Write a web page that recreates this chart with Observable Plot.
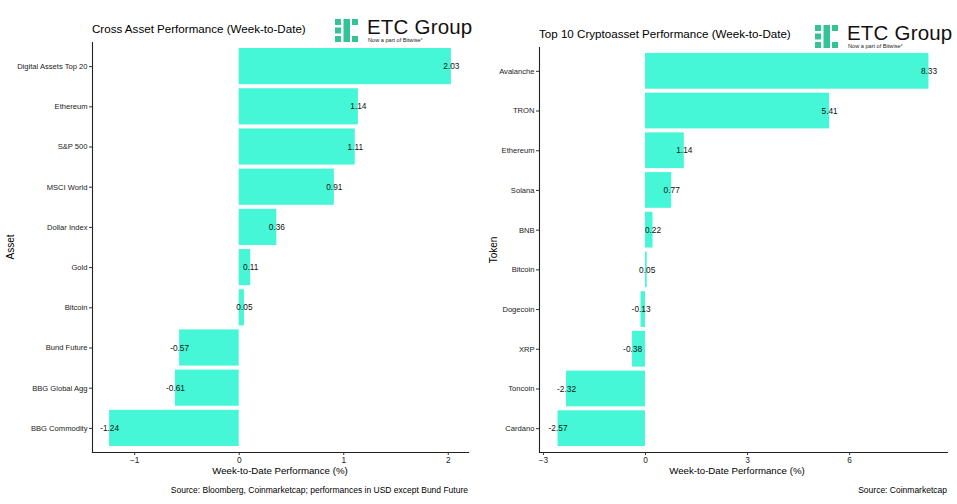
<!DOCTYPE html>
<html>
<head>
<meta charset="utf-8">
<script src="https://cdn.jsdelivr.net/npm/d3@7"></script>
<script src="https://cdn.jsdelivr.net/npm/@observablehq/plot@0.6"></script>
<style>
  body { margin: 0; background: #fff; }
  #wrap { position: relative; width: 957px; height: 504px; font-family: "Liberation Sans", Arial, sans-serif; overflow: hidden; }
  .panel { position: absolute; top: 0; }
  .t { position: absolute; white-space: nowrap; color: #000; }
  .title { font-size: 11.6px; }
  .axt { font-size: 9.7px; transform: translateX(-50%); }
  .cap { font-size: 8.5px; transform: translateX(-100%); }
  .yt { font-size: 10px; transform: translate(-50%, -50%) rotate(-90deg); }
  .logo { position: absolute; width: 140px; height: 26px; }
  .logo .etc { position: absolute; white-space: nowrap; left: 32px; top: -4px; font-size: 20.5px; line-height: 24px; color: #111; letter-spacing: 0.2px; }
  .logo .sub { position: absolute; white-space: nowrap; left: 33px; top: 18px; font-size: 5.6px; line-height: 7px; color: #222; }
</style>
</head>
<body>
<div id="wrap"></div>
<script>
// ---- Data ----
const assetNames = ["Digital Assets Top 20", "Ethereum", "S&P 500", "MSCI World", "Dollar Index", "Gold", "Bitcoin", "Bund Future", "BBG Global Agg", "BBG Commodity"];
const assetValues = [2.03, 1.14, 1.11, 0.91, 0.36, 0.11, 0.05, -0.57, -0.61, -1.24];
const tokenNames = ["Avalanche", "TRON", "Ethereum", "Solana", "BNB", "Bitcoin", "Dogecoin", "XRP", "Toncoin", "Cardano"];
const tokenValues = [8.33, 5.41, 1.14, 0.77, 0.22, 0.05, -0.13, -0.38, -2.32, -2.57];
const assetTicks = [-1, 0, 1, 2];
const tokenTicks = [-3, 0, 3, 6];

const barColor = "#45f7d7";
const wrap = document.getElementById("wrap");

function expandDomain(vals) {
  const lo = Math.min(0, d3.min(vals)), hi = Math.max(0, d3.max(vals));
  const pad = (hi - lo) * 0.05;
  return [lo - pad, hi + pad];
}

function makeChart(names, values, ticks, m) {
  const data = names.map((n, i) => ({name: n, value: values[i], label: values[i].toFixed(2)}));
  return Plot.plot({
    width: 478,
    height: 504,
    marginLeft: m.left,
    marginRight: m.right,
    marginTop: m.top,
    marginBottom: m.bottom,
    style: {fontFamily: '"Liberation Sans", Arial, sans-serif', color: "#222", background: "transparent"},
    x: {domain: expandDomain(values), label: null},
    y: {domain: names, paddingInner: 0.1, paddingOuter: 0.15, round: false, label: null},
    marks: [
      Plot.barX(data, {x1: 0, x2: "value", y: "name", fill: barColor}),
      Plot.text(data, {x: "value", y: "name", text: "label", fontSize: 8.3, fill: "#111"}),
      Plot.frame({anchor: "left", stroke: "#222", strokeWidth: 1.1}),
      Plot.frame({anchor: "bottom", stroke: "#222", strokeWidth: 1.1}),
      Plot.axisY({tickSize: 3, tickPadding: 2, fontSize: 7.6, label: null, stroke: "#333", fill: "#222"}),
      Plot.axisX({ticks: ticks, tickSize: 3, tickPadding: 2, fontSize: 8.3, label: null, stroke: "#333", fill: "#222", tickFormat: d3.format("d")})
    ]
  });
}

function addText(cls, txt, x, y) {
  const d = document.createElement("div");
  d.className = "t " + cls;
  d.textContent = txt;
  d.style.left = x + "px";
  d.style.top = y + "px";
  wrap.appendChild(d);
  return d;
}

function addLogo(x, y) {
  const l = document.createElement("div");
  l.className = "logo";
  l.style.left = x + "px";
  l.style.top = y + "px";
  l.innerHTML = `<svg width="23" height="23" viewBox="0 0 23 23" style="position:absolute;left:0;top:0">
    <g fill="#33c496">
      <rect x="0" y="0" width="6" height="6"/><rect x="0" y="8.5" width="6" height="6"/><rect x="0" y="17" width="6" height="6"/>
      <rect x="8.5" y="0" width="6.5" height="23"/>
      <rect x="17" y="0" width="6" height="6"/><rect x="17" y="17" width="6" height="6"/>
    </g></svg>
    <div class="etc">ETC Group</div>
    <div class="sub">Now a part of Bitwise°</div>`;
  wrap.appendChild(l);
}

// Left panel
const left = document.createElement("div");
left.className = "panel";
left.style.left = "0px";
left.appendChild(makeChart(assetNames, assetValues, assetTicks, {left: 92, right: 10, top: 42, bottom: 52}));
wrap.appendChild(left);

// Right panel
const right = document.createElement("div");
right.className = "panel";
right.style.left = "479px";
right.appendChild(makeChart(tokenNames, tokenValues, tokenTicks, {left: 60, right: 10, top: 47, bottom: 52}));
wrap.appendChild(right);

// Texts
addText("title", "Cross Asset Performance (Week-to-Date)", 92, 22);
addText("title", "Top 10 Cryptoasset Performance (Week-to-Date)", 539, 27);
addText("axt", "Week-to-Date Performance (%)", 280, 465);
addText("axt", "Week-to-Date Performance (%)", 737, 465);
addText("cap", "Source: Bloomberg, Coinmarketcap; performances in USD except Bund Future", 468, 485);
addText("cap", "Source: Coinmarketcap", 947, 485);
addText("yt", "Asset", 10, 247);
addText("yt", "Token", 493, 250);
addLogo(335, 19);
addLogo(815, 25);
</script>
</body>
</html>
